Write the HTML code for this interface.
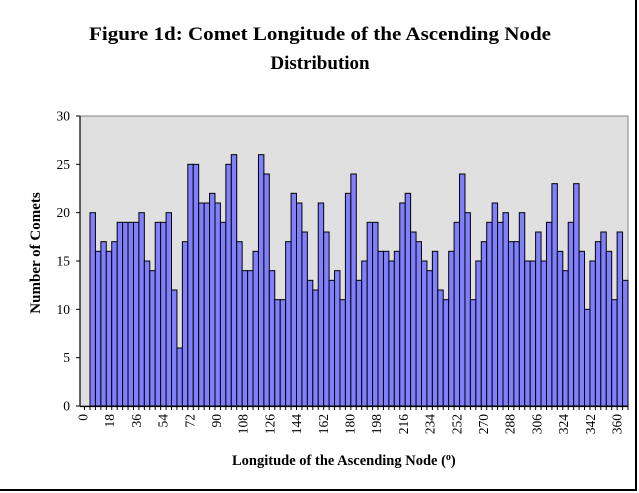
<!DOCTYPE html>
<html><head><meta charset="utf-8"><style>
html,body{margin:0;padding:0;background:#fff;width:639px;height:493px;overflow:hidden}
svg{display:block}
text{font-family:"Liberation Serif",serif}
</style></head><body>
<svg id="s" width="639" height="493" xmlns="http://www.w3.org/2000/svg">
<defs><clipPath id="yc"><rect x="0" y="191" width="70" height="200"/></clipPath></defs>
<rect x="0" y="0" width="639" height="493" fill="#fff"/>
<text x="320" y="40" font-size="19" font-weight="bold" text-anchor="middle" textLength="462" lengthAdjust="spacingAndGlyphs">Figure 1d:  Comet Longitude of the Ascending Node</text>
<text x="320" y="69" font-size="19" font-weight="bold" text-anchor="middle">Distribution</text>
<rect x="80" y="116" width="548" height="290" fill="#E0E0E0" stroke="#808080" stroke-width="1"/>
<g id="bars"></g>
<line x1="80" y1="116" x2="80" y2="406" stroke="#000" stroke-width="1.2"/>
<line x1="80" y1="406.5" x2="628" y2="406.5" stroke="#000" stroke-width="1.2"/>
<g id="yt" font-size="13.5"></g>
<g id="xt" font-size="13.5"></g>
<g clip-path="url(#yc)"><text transform="translate(40,253) rotate(-90)" font-size="15" font-weight="bold" text-anchor="middle">Number of Comets</text></g>
<text x="232" y="465" font-size="14.5" font-weight="bold">Longitude of the Ascending Node (<tspan font-size="10" dy="-5">o</tspan><tspan dy="5">)</tspan></text>
<line x1="0" y1="490" x2="637" y2="490" stroke="#000" stroke-width="2"/>
<line x1="636" y1="0" x2="636" y2="491" stroke="#000" stroke-width="2"/>
</svg>
<script>
var v=[20,16,17,16,17,19,19,19,19,20,15,14,19,19,20,12,6,17,25,25,21,21,22,21,19,25,26,17,14,14,16,26,24,14,11,11,17,22,21,18,13,12,21,18,13,14,11,22,24,13,15,19,19,16,16,15,16,21,22,18,17,15,14,16,12,11,16,19,24,20,11,15,17,19,21,19,20,17,17,20,15,15,18,15,19,23,16,14,19,23,16,10,15,17,18,16,11,18,13];
var s="";
var w=538/99;
for(var i=0;i<v.length;i++){var x=90+i*w,h=v[i]*290/30;
s+='<rect x="'+x.toFixed(2)+'" y="'+(406-h).toFixed(2)+'" width="'+w.toFixed(2)+'" height="'+h.toFixed(2)+'" fill="#8080FF" stroke="#000" stroke-width="1"/>';}
for(var i=0;i<=99;i++){var x=90+i*w;s+='<line x1="'+x.toFixed(2)+'" y1="406" x2="'+x.toFixed(2)+'" y2="410" stroke="#000"/>';}
s+='<line x1="84.5" y1="406" x2="84.5" y2="410" stroke="#000"/>';
document.getElementById("bars").innerHTML=s;
var y="";
for(var k=0;k<=6;k++){var yy=406-k*290/6;y+='<line x1="76" y1="'+yy+'" x2="80" y2="'+yy+'" stroke="#000"/><text x="70" y="'+(yy+4.5)+'" text-anchor="end">'+(k*5)+'</text>';}
document.getElementById("yt").innerHTML=y;
var t="";
for(var k=0;k<=20;k++){var xx=83+k*26.7+4.5;t+='<text transform="translate('+xx.toFixed(1)+',414) rotate(-90)" text-anchor="end">'+(k*18)+'</text>';}
document.getElementById("xt").innerHTML=t;
</script>
</body></html>
